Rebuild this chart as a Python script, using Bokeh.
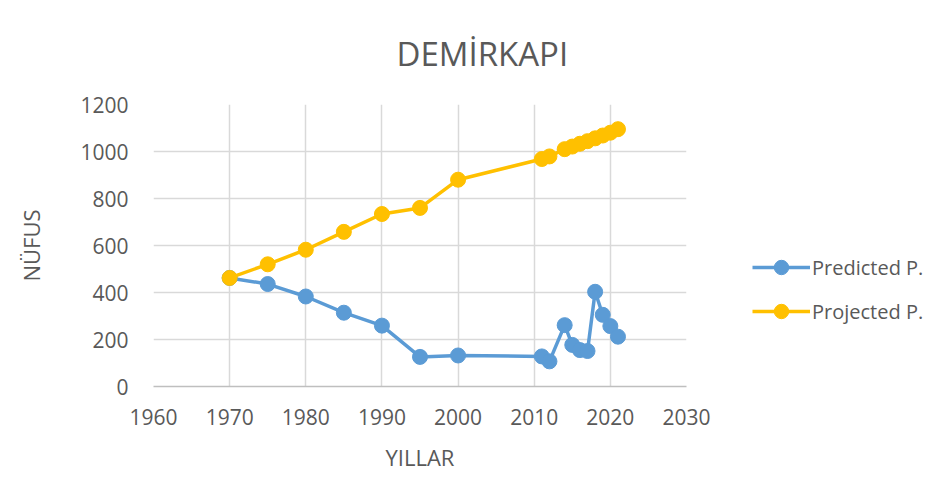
from bokeh.plotting import figure
from bokeh.models import Legend, LegendItem, FixedTicker, Range1d
from bokeh.embed import file_html
from bokeh.resources import INLINE

years = [1970, 1975, 1980, 1985, 1990, 1995, 2000, 2011, 2012, 2014, 2015, 2016, 2017, 2018, 2019, 2020, 2021]
predicted = [462, 436, 383, 314, 259, 126, 132, 128, 107, 261, 177, 155, 151, 403, 305, 257, 212]
projected = [462, 520, 582, 658, 734, 760, 880, 968, 979, 1010, 1021, 1033, 1044, 1056, 1068, 1080, 1095]
x_ticks = [1960, 1970, 1980, 1990, 2000, 2010, 2020, 2030]
y_ticks = [0, 200, 400, 600, 800, 1000, 1200]

BLUE = "#5B9BD5"
GOLD = "#FFC000"
TXT = "#595959"
FONT = "Open Sans"

p = figure(frame_width=533, frame_height=282, output_backend="svg", toolbar_location=None,
           x_range=Range1d(1960, 2030), y_range=Range1d(0, 1200),
           min_border_left=153, min_border_right=238, min_border_top=102, min_border_bottom=88,
           title="DEMİRKAPI")

p.title.align = "left"
p.title.text_font = FONT
p.title.text_font_size = "33px"
p.title.text_font_style = "normal"
p.title.text_color = TXT
p.title.standoff = 57
p.title.offset = 243

p.outline_line_color = None
p.xaxis.ticker = FixedTicker(ticks=x_ticks)
p.yaxis.ticker = FixedTicker(ticks=y_ticks)
p.xgrid.ticker = FixedTicker(ticks=x_ticks)
p.ygrid.ticker = FixedTicker(ticks=y_ticks)
for g in (p.xgrid, p.ygrid):
    g.grid_line_color = "#D9D9D9"
    g.grid_line_width = 1.5

for ax in (p.xaxis, p.yaxis):
    ax.major_tick_line_color = None
    ax.minor_tick_line_color = None
    ax.major_label_text_font = FONT
    ax.major_label_text_font_size = "21px"
    ax.major_label_text_color = TXT
    ax.axis_label_text_font = FONT
    ax.axis_label_text_font_size = "22px"
    ax.axis_label_text_font_style = "normal"
    ax.axis_label_text_color = TXT

p.xaxis.axis_line_color = "#BFBFBF"
p.xaxis.axis_line_width = 1.5
p.yaxis.axis_line_color = None
p.xaxis.axis_label = "YILLAR"
p.yaxis.axis_label = "NÜFUS"
p.xaxis.major_label_standoff = 16
p.yaxis.major_label_standoff = 19
p.xaxis.axis_label_standoff = 14
p.yaxis.axis_label_standoff = 31

l1 = p.line(years, predicted, line_color=BLUE, line_width=3.5)
s1 = p.scatter(years, predicted, size=15, fill_color=BLUE, line_color=BLUE)
l2 = p.line(years, projected, line_color=GOLD, line_width=3.5)
s2 = p.scatter(years, projected, size=15, fill_color=GOLD, line_color=GOLD)

legend = Legend(items=[LegendItem(label="Predicted P.", renderers=[l1, s1]),
                       LegendItem(label="Projected P.", renderers=[l2, s2])],
                location=(66, 57), orientation="vertical",
                label_text_font=FONT, label_text_font_size="20px", label_text_color=TXT,
                glyph_width=58, glyph_height=36, label_height=36, label_standoff=2,
                spacing=8, padding=0, margin=0,
                border_line_color=None, background_fill_alpha=0)
p.add_layout(legend, "right")

open("out.html", "w").write(file_html(p, INLINE))
